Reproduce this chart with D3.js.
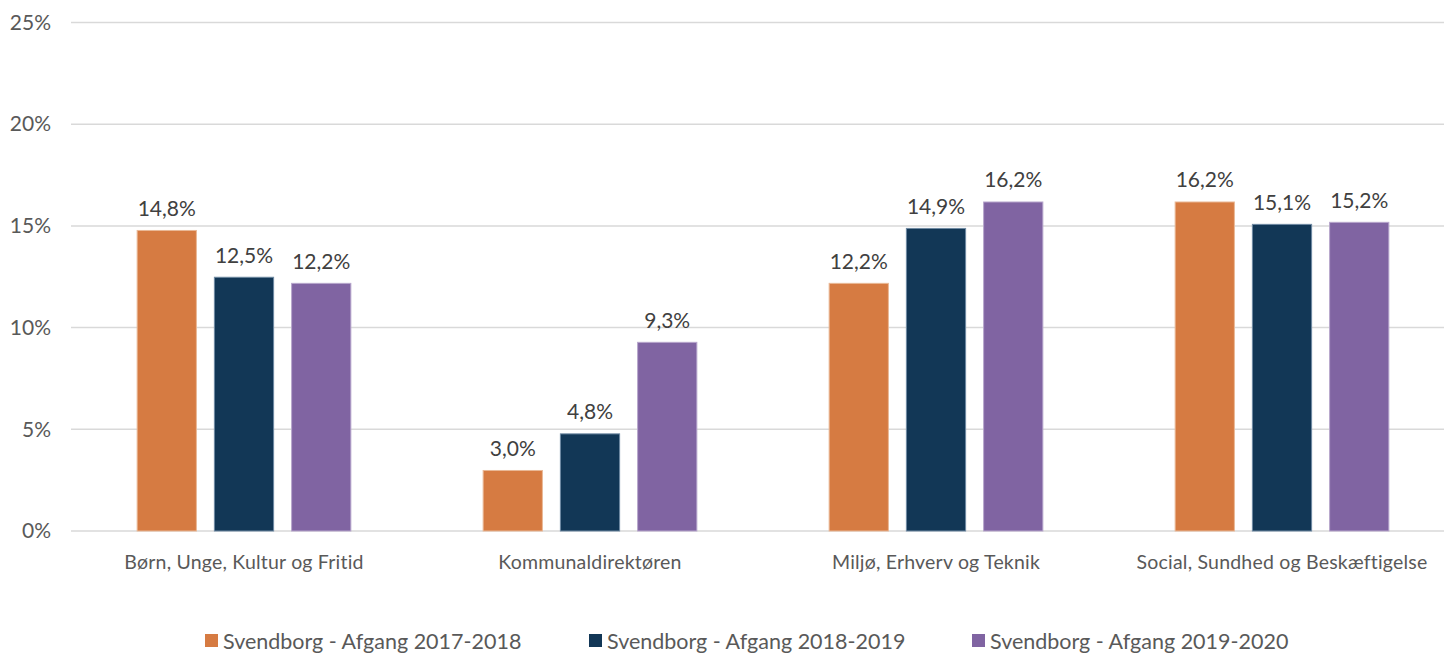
<!doctype html>
<html>
  <head>
    <meta charset="utf-8">
    <title>Afgang pr. område</title>
    <style>
      body { margin: 0; background: #fff; }
      .grid line { stroke: #d9d9d9; stroke-width: 1.5px; }
      .axis text { font-family: Lato, "Open Sans", sans-serif; font-size: 21px; fill: #595959; }
      .axis.xaxis text { font-size: 19.5px; letter-spacing: 0.2px; }
      .label { font-family: Lato, "Open Sans", sans-serif; font-size: 21px; fill: #404040; }
      .legend text { font-family: Lato, "Open Sans", sans-serif; font-size: 21.5px; fill: #595959; }
    </style>
  </head>
  <body>
  <script src="https://d3js.org/d3.v7.min.js" charset="utf-8"></script>
  <script>

    var categories = ["Børn, Unge, Kultur og Fritid", "Kommunaldirektøren", "Miljø, Erhverv og Teknik", "Social, Sundhed og Beskæftigelse"];
    var seriesNames = ["Svendborg - Afgang 2017-2018", "Svendborg - Afgang 2018-2019", "Svendborg - Afgang 2019-2020"];
    var afgang1718 = [14.8, 3.0, 12.2, 16.2];
    var afgang1819 = [12.5, 4.8, 14.9, 15.1];
    var afgang1920 = [12.2, 9.3, 16.2, 15.2];
    var colors = ["#d67b42", "#123756", "#8064a2"];
    var edges = ["#e9b896", "#6f8aa3", "#b7a6cc"];
    var yTicks = [0, 5, 10, 15, 20, 25];

    var series = [afgang1718, afgang1819, afgang1920];

    var width = 1456, height = 657;
    var plotLeft = 71, plotRight = 1444, plotTop = 22.5, plotBottom = 531;

    var svg = d3.select("body").append("svg")
      .attr("width", width)
      .attr("height", height);

    var x = d3.scaleBand()
      .domain(categories)
      .range([plotLeft, 1455]);

    var x1 = d3.scaleBand()
      .domain(d3.range(series.length))
      .range([0, x.bandwidth()])
      .paddingInner(0.22)
      .paddingOuter(0.85);

    var y = d3.scaleLinear()
      .domain([0, 25])
      .range([plotBottom, plotTop]);

    // gitterlinjer
    svg.append("g")
      .attr("class", "grid")
      .selectAll("line")
      .data(yTicks)
      .join("line")
      .attr("x1", plotLeft)
      .attr("x2", plotRight)
      .attr("y1", d => y(d))
      .attr("y2", d => y(d));

    // y-akse
    var yAxis = svg.append("g")
      .attr("class", "axis")
      .attr("transform", "translate(" + plotLeft + ",0)")
      .call(d3.axisLeft(y).tickValues(yTicks).tickFormat(d => d + "%").tickSize(0).tickPadding(20));
    yAxis.select(".domain").remove();

    // x-akse
    var xAxis = svg.append("g")
      .attr("class", "axis xaxis")
      .attr("transform", "translate(0," + y(0) + ")")
      .call(d3.axisBottom(x).tickSize(0).tickPadding(24));
    xAxis.select(".domain").remove();

    // søjler
    series.forEach(function(vals, i) {
      var g = svg.append("g");
      g.selectAll("rect")
        .data(vals)
        .join("rect")
        .attr("x", (d, j) => x(categories[j]) + x1(i) + 0.5)
        .attr("y", d => y(d) + 0.5)
        .attr("width", x1.bandwidth() - 1)
        .attr("height", d => y(0) - y(d) - 0.5)
        .attr("fill", colors[i])
        .attr("stroke", edges[i])
        .attr("stroke-width", 1);

      g.selectAll("text")
        .data(vals)
        .join("text")
        .attr("class", "label")
        .attr("x", (d, j) => x(categories[j]) + x1(i) + x1.bandwidth() / 2)
        .attr("y", d => y(d) - 14)
        .attr("text-anchor", "middle")
        .text(d => d.toFixed(1).replace(".", ",") + "%");
    });

    // signatur
    var legendX = [205, 589, 972];
    var legend = svg.append("g")
      .attr("class", "legend")
      .selectAll("g")
      .data(seriesNames)
      .join("g")
      .attr("transform", (d, i) => "translate(" + legendX[i] + ",634)");

    legend.append("rect")
      .attr("width", 13)
      .attr("height", 13)
      .attr("fill", (d, i) => colors[i]);

    legend.append("text")
      .attr("x", 18)
      .attr("y", 7)
      .attr("dy", "0.35em")
      .text(d => d);

  </script>
  </body>
</html>
